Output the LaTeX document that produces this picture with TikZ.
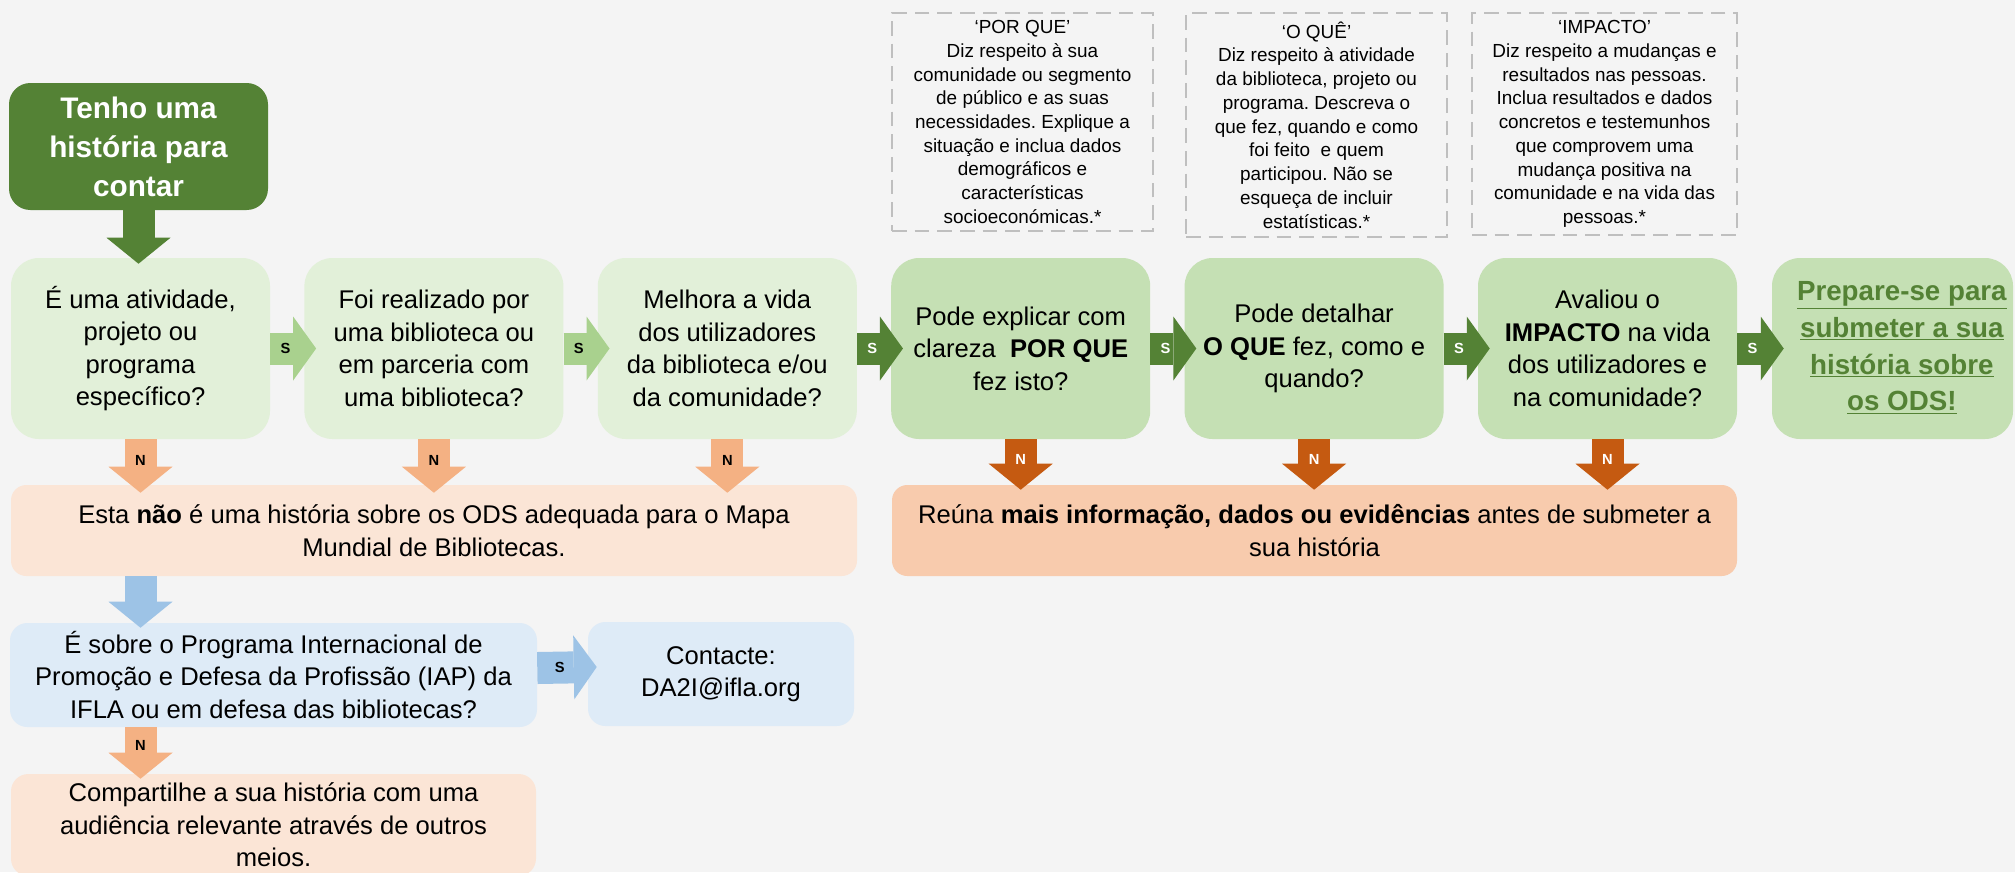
\documentclass[tikz,border=0pt]{standalone}
\usepackage{fontspec}
\setmainfont{Liberation Sans}
\usetikzlibrary{arrows.meta,calc}
\definecolor{bg}{HTML}{F4F4F4}
\definecolor{dkgreen}{HTML}{548235}
\definecolor{sl}{HTML}{A9D18E}
\definecolor{qlight}{HTML}{E2F0D9}
\definecolor{qmid}{HTML}{C5E0B4}
\definecolor{orl}{HTML}{F4B183}
\definecolor{ord}{HTML}{C55A11}
\definecolor{peach}{HTML}{FBE5D6}
\definecolor{salmon}{HTML}{F8CBAD}
\definecolor{blu}{HTML}{9DC3E6}
\definecolor{ltblue}{HTML}{DEEBF7}
\definecolor{dashgrey}{HTML}{BFBFBF}
\frenchspacing
\begin{document}
\begin{tikzpicture}[x=0.75pt,y=-0.75pt,
  box/.style={rounded corners=21pt, align=center, inner sep=0pt, minimum width=194.25pt, minimum height=135.75pt, font=\fontsize{19.2}{24.4}\selectfont, text=black},
  qa/.style={box, fill=qlight},
  qb/.style={box, fill=qmid},
  wide/.style={rounded corners=11.5pt, align=center, inner sep=0pt, minimum height=68.25pt, font=\fontsize{19.2}{24.4}\selectfont, text=black},
  note/.style={draw=dashgrey, line width=1.8pt, dash pattern=on 11pt off 6pt, align=center, inner sep=0pt, font=\fontsize{14.2}{17.8}\selectfont, text=black},
  harrow/.style={line width=24pt, -{Triangle[length=17.25pt,width=48pt,line width=0pt]}},
  varrow/.style={line width=24pt, -{Triangle[length=19.5pt,width=48pt,line width=0pt]}},
  lbl/.style={font=\bfseries\fontsize{11}{11}\selectfont, inner sep=0pt, text=black},
  lblw/.style={lbl, text=white}
]
\fill[bg] (0,0) rectangle (2015,872);
\useasboundingbox (0,0) rectangle (2015,872);
\clip (0,0) rectangle (2015,872);

% notes
\node[note, minimum width=195.75pt, minimum height=163.5pt] (na) at (1022.5,122) {‘POR QUE’\\Diz respeito à sua\\comunidade ou segmento\\de público e as suas\\necessidades. Explique a\\situação e inclua dados\\demográficos e\\características\\socioeconómicas.*};
\node[note, minimum width=195.75pt, minimum height=168pt] (nb) at (1316.5,125) {‘O QUÊ’\\Diz respeito à atividade\\da biblioteca, projeto ou\\programa. Descreva o\\que fez, quando e como\\foi feito\ \ e quem\\participou. Não se\\esqueça de incluir\\estatísticas.*};
\node[note, minimum width=198.75pt, minimum height=166.5pt] (nc) at (1604.5,124) {‘IMPACTO’\\Diz respeito a mudanças e\\resultados nas pessoas.\\Inclua resultados e dados\\concretos e testemunhos\\que comprovem uma\\mudança positiva na\\comunidade e na vida das\\pessoas.*};

% start
\node[box, fill=dkgreen, text=white, minimum height=95.25pt, rounded corners=16pt, font=\bfseries\fontsize{22.3}{29.2}\selectfont] (start) at (138.5,146.5) {Tenho uma\\história para\\contar};

% row of questions
\node[qa] (b1) at (140.5,348.5) {É uma atividade,\\projeto ou\\programa\\específico?};
\node[qa] (b2) at (433.9,348.5) {Foi realizado por\\uma biblioteca ou\\em parceria com\\uma biblioteca?};
\node[qa] (b3) at (727.3,348.5) {Melhora a vida\\dos utilizadores\\da biblioteca e/ou\\da comunidade?};
\node[qb] (b4) at (1020.7,348.5) {Pode explicar com\\clareza\ \ \textbf{POR QUE}\\fez isto?};
\node[qb] (b5) at (1314.1,348.5) {Pode detalhar\\\textbf{O QUE} fez, como e\\quando?};
\node[qb] (b6) at (1607.5,348.5) {Avaliou o\\\textbf{IMPACTO} na vida\\dos utilizadores e\\na comunidade?};
\node[qb, align=left, minimum width=180.75pt, text=dkgreen, font=\bfseries\fontsize{20.8}{27.5}\selectfont] (b7) at (1892.5,348.5) {\hspace*{14pt}\begin{tabular}{@{}c@{}}\underline{Prepare-se para}\\\underline{submeter a sua}\\\underline{história sobre}\\\underline{os ODS!}\end{tabular}};

% outcome boxes
\node[wide, fill=peach, minimum width=634.5pt] (esta) at (434,530.5) {Esta \textbf{não} é uma história sobre os ODS adequada para o Mapa\\Mundial de Bibliotecas.};
\node[wide, fill=salmon, minimum width=633.75pt] (reuna) at (1314.5,530.5) {Reúna \textbf{mais informação, dados ou evidências} antes de submeter a\\sua história};
\node[wide, fill=ltblue, minimum width=395.25pt, minimum height=78pt, rounded corners=13pt] (iap) at (273.5,675) {É sobre o Programa Internacional de\\Promoção e Defesa da Profissão (IAP) da\\IFLA ou em defesa das bibliotecas?};
\node[wide, fill=ltblue, minimum width=199.5pt, minimum height=78pt, rounded corners=13pt] (contact) at (721,674) {Contacte:\\DA2I@ifla.org};
\node[wide, fill=peach, minimum width=393.75pt, minimum height=76.5pt, rounded corners=13pt] (comp) at (273.5,825) {Compartilhe a sua história com uma\\audiência relevante através de outros\\meios.};

% connectors
\draw[varrow, dkgreen] (start.south) -- ($(start.south |- b1.north)+(0,6)$);
\draw[harrow, sl] (b1.east) -- ($(b2.west)+(12,0)$) node[lbl, pos=0.33] {S};
\draw[harrow, sl] (b2.east) -- ($(b3.west)+(12,0)$) node[lbl, pos=0.33] {S};
\draw[harrow, dkgreen] (b3.east) -- ($(b4.west)+(12,0)$) node[lblw, pos=0.33] {S};
\draw[harrow, dkgreen] (b4.east) -- ($(b5.west)+(12,0)$) node[lblw, pos=0.33] {S};
\draw[harrow, dkgreen] (b5.east) -- ($(b6.west)+(12,0)$) node[lblw, pos=0.33] {S};
\draw[harrow, dkgreen] (b6.east) -- ($(b7.west)+(12,0)$) node[lblw, pos=0.33] {S};

\draw[varrow, orl] (b1.south) -- ($(b1.south |- esta.north)+(0,8)$) node[lbl, pos=0.39] {N};
\draw[varrow, orl] (b2.south) -- ($(b2.south |- esta.north)+(0,8)$) node[lbl, pos=0.39] {N};
\draw[varrow, orl] (b3.south) -- ($(b3.south |- esta.north)+(0,8)$) node[lbl, pos=0.39] {N};
\draw[varrow, ord] (b4.south) -- ($(b4.south |- reuna.north)+(0,5)$) node[lblw, pos=0.39] {N};
\draw[varrow, ord] (b5.south) -- ($(b5.south |- reuna.north)+(0,5)$) node[lblw, pos=0.39] {N};
\draw[varrow, ord] (b6.south) -- ($(b6.south |- reuna.north)+(0,5)$) node[lblw, pos=0.39] {N};

\draw[varrow, blu] (b1.south |- esta.south) -- ($(b1.south |- iap.north)+(0,5)$);
\draw[harrow, blu] ($(iap.east)+(0,-7)$) -- ($(contact.west)+(9,-7)$) node[lbl, pos=0.38] {S};
\draw[varrow, orl] (b1.south |- iap.south) -- ($(b1.south |- comp.north)+(0,5)$) node[lbl, pos=0.35] {N};
\end{tikzpicture}
\end{document}
